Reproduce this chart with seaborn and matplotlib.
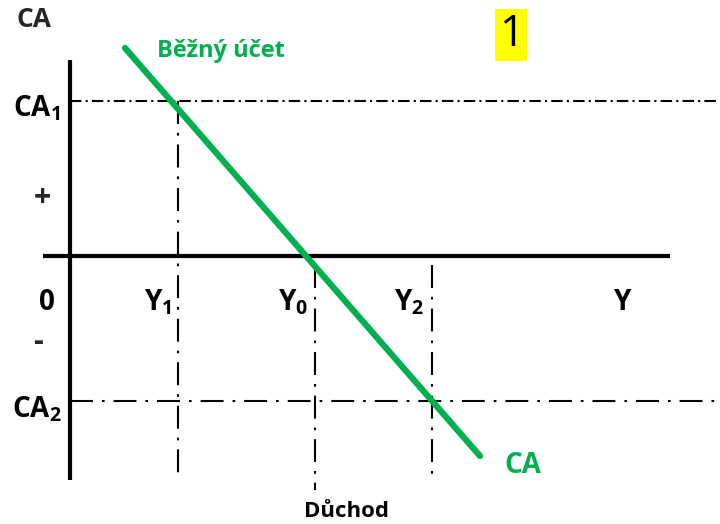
import matplotlib.pyplot as plt
import seaborn as sns
import pandas as pd

# economic diagram: CA (current account) against income Y
# coordinates: income measured from the CA axis, CA measured from the Y axis
income_levels = {'Y$_1$': 108, 'Y$_0$': 245, 'Y$_2$': 362}
ca_levels = {'CA$_1$': 155, 'CA$_2$': -145}
ca_line_income = [55, 410]
ca_line_values = [208, -200]

sns.set_style('white')
plt.rcParams['font.family'] = ['Open Sans', 'DejaVu Sans']
plt.rcParams['mathtext.fontset'] = 'custom'
plt.rcParams['mathtext.rm'] = 'Open Sans:bold'
plt.rcParams['mathtext.bf'] = 'Open Sans:bold'

green = '#00B050'

fig = plt.figure(figsize=(7.2, 5.24), dpi=100)
ax = fig.add_axes([0, 0, 1, 1])
ax.set_xlim(-70, 650)
ax.set_ylim(-268, 256)
ax.axis('off')

# axes of the diagram
ax.plot([0, 0], [-224, 196], color='black', lw=3, solid_capstyle='butt')
ax.plot([-27, 600], [0, 0], color='black', lw=3, solid_capstyle='butt')

# dash-dot guides
fine = (0, (5.5, 2, 1, 2))
coarse = (0, (11, 4.3, 1.3, 4.3))
ax.plot([0, 650], [ca_levels['CA$_1$']] * 2, color='black', lw=1.5, linestyle=fine)
ax.plot([0, 650], [ca_levels['CA$_2$']] * 2, color='black', lw=1.5, linestyle=coarse)
ax.plot([income_levels['Y$_1$']] * 2, [ca_levels['CA$_1$'], -219], color='black', lw=1.5, linestyle=coarse)
ax.plot([income_levels['Y$_0$']] * 2, [-9, -234], color='black', lw=1.5, linestyle=coarse)
ax.plot([income_levels['Y$_2$']] * 2, [-9, -226], color='black', lw=1.5, linestyle=coarse)

# current account line
df = pd.DataFrame({'income': ca_line_income, 'ca': ca_line_values})
sns.lineplot(data=df, x='income', y='ca', color=green, lw=4.5, ax=ax)

bold = dict(fontweight='bold', color='black', fontsize=20)
ax.text(-36, 229, 'CA', ha='center', va='baseline', fontweight='bold', fontsize=19)
ax.text(-33, 140, 'CA$_1$', ha='center', va='baseline', **bold)
ax.text(-33, -161, 'CA$_2$', ha='center', va='baseline', **bold)
ax.text(-28, 58, '+', ha='center', va='center', fontweight='bold', fontsize=22)
ax.text(-23, -54, '0', ha='center', va='baseline', **bold)
ax.text(-32, -86, '-', ha='center', va='center', fontweight='bold', fontsize=22)
label_x = [88, 223, 339]
for lab, x in zip(income_levels, label_x):
    ax.text(x, -54, lab, ha='center', va='baseline', **bold)
ax.text(553, -54, 'Y', ha='center', va='baseline', **bold)

ax.text(87, 199, 'Běžný účet', ha='left', va='baseline', color=green, fontweight='bold', fontsize=17)
ax.text(453, -217, 'CA', ha='center', va='baseline', color=green, fontweight='bold', fontsize=20)
ax.text(276, -261, 'Důchod', ha='center', va='baseline', color='black', fontweight='bold', fontsize=16)
ax.text(441, 221, '1', ha='center', va='center', color='black', fontsize=31,
        bbox=dict(facecolor='#FFFF00', edgecolor='none', pad=2.5))

fig.savefig('out.png', dpi=100)
